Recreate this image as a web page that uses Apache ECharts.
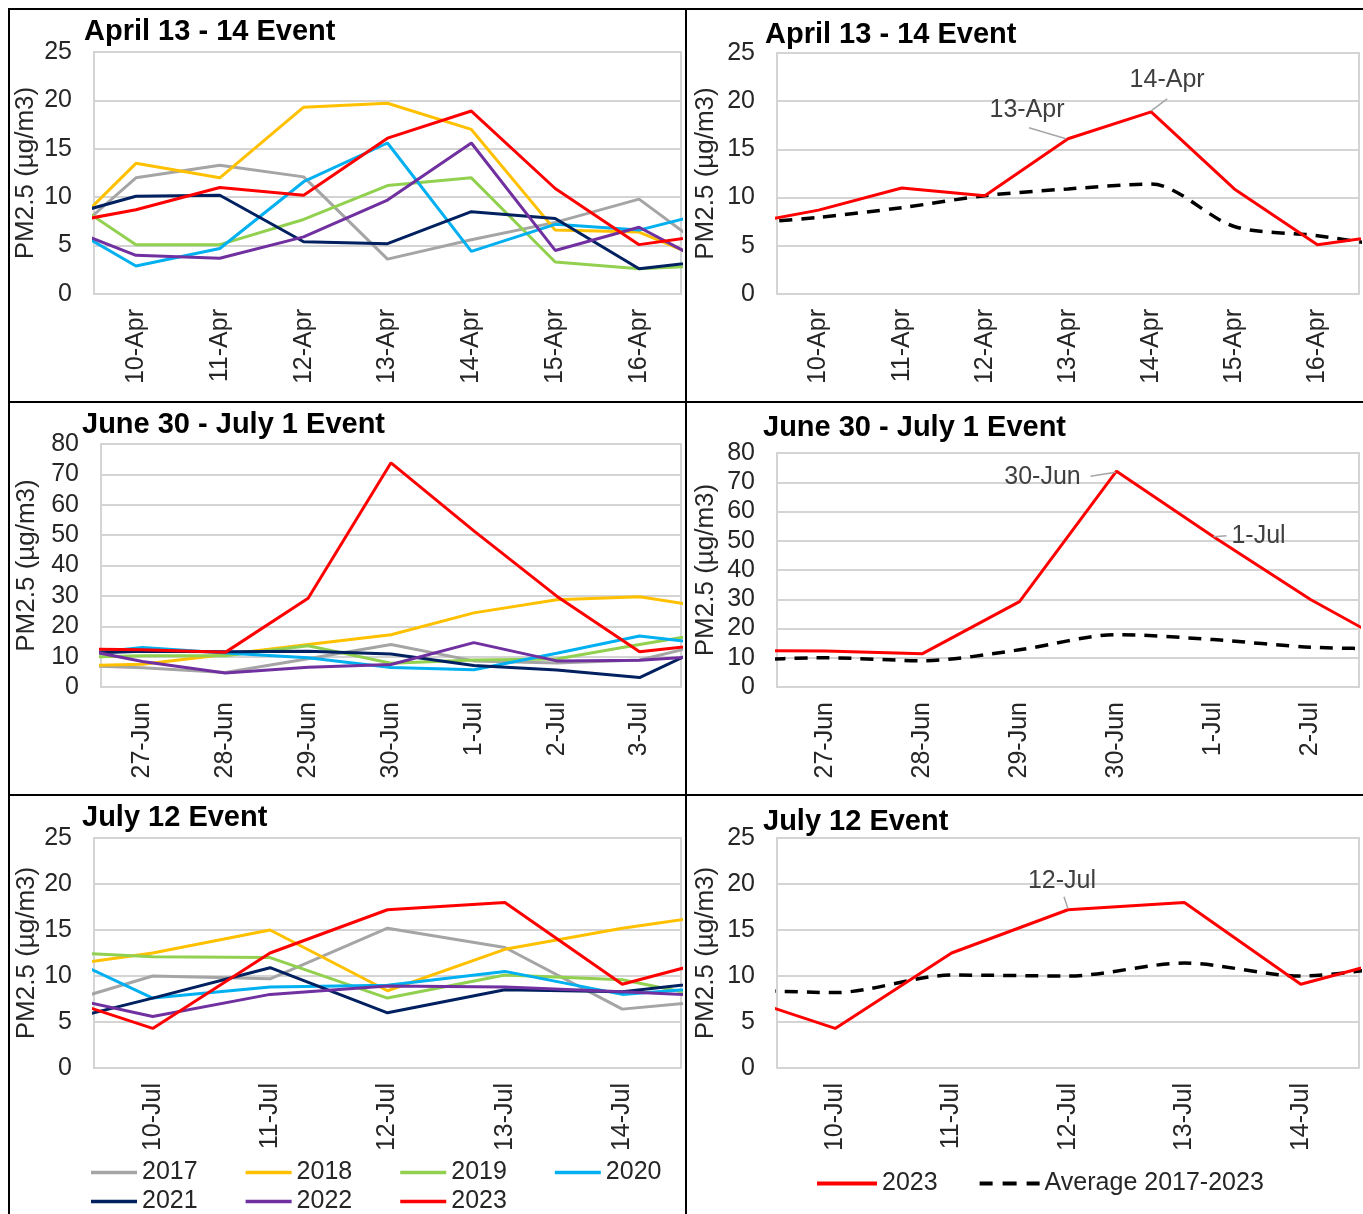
<!DOCTYPE html>
<html>
<head>
<meta charset="utf-8">
<title>PM2.5 events</title>
<script src="https://cdn.jsdelivr.net/npm/echarts@6/dist/echarts.min.js"></script>
<style>
  html, body { margin: 0; padding: 0; background: #fff; }
  #main { width: 1363px; height: 1214px; }
</style>
</head>
<body>
<div id="main"></div>
<script>
// 年份 / 颜色
const years = ['2017', '2018', '2019', '2020', '2021', '2022', '2023']
const yearColors = ['#A5A5A5', '#FFC000', '#92D050', '#00B0F0', '#002060', '#7030A0', '#FF0000']

// April 13 - 14 event (first and last day only fall half inside the plot)
const aprDays = ['9-Apr', '10-Apr', '11-Apr', '12-Apr', '13-Apr', '14-Apr', '15-Apr', '16-Apr', '17-Apr']
const apr2017 = [4.4, 12.0, 13.3, 12.1, 3.6, 5.6, 7.4, 9.8, 3.4]
const apr2018 = [4.9, 13.5, 12.0, 19.3, 19.7, 17.0, 6.6, 6.4, 2.8]
const apr2019 = [10.9, 5.1, 5.1, 7.7, 11.2, 12.0, 3.3, 2.6, 3.0]
const apr2020 = [7.9, 2.9, 4.7, 11.6, 15.6, 4.4, 7.2, 6.6, 8.8]
const apr2021 = [7.7, 10.1, 10.2, 5.4, 5.2, 8.5, 7.8, 2.6, 3.6]
const apr2022 = [7.4, 4.0, 3.7, 5.9, 9.7, 15.6, 4.5, 6.9, 2.3]
const apr2023 = [7.1, 8.7, 11.0, 10.2, 16.1, 18.9, 10.9, 5.1, 6.3]
const aprAvg = [7.25, 7.95, 8.95, 10.2, 10.9, 11.4, 7.0, 6.05, 4.75]

// June 30 - July 1 event
const junDays = ['26-Jun', '27-Jun', '28-Jun', '29-Jun', '30-Jun', '1-Jul', '2-Jul', '3-Jul', '4-Jul']
const jun2017 = [7.3, 6.3, 4.8, 9.3, 14.0, 8.6, 7.9, 8.9, 15.5]
const jun2018 = [6.9, 7.5, 10.7, 14.0, 17.2, 24.4, 28.7, 29.7, 25.5]
const jun2019 = [9.7, 10.3, 10.3, 13.6, 7.8, 8.9, 9.2, 14.0, 18.6]
const jun2020 = [10.2, 13.0, 11.2, 9.6, 6.4, 5.7, 11.1, 16.8, 13.6]
const jun2021 = [10.8, 11.8, 11.6, 11.8, 10.9, 7.1, 5.6, 3.1, 15.9]
const jun2022 = [13.8, 8.4, 4.6, 6.5, 7.4, 14.6, 8.6, 8.8, 10.6]
const jun2023 = [12.5, 12.3, 11.4, 29.2, 73.8, 51.4, 29.9, 11.6, 14.6]
const junAvg = [9.0, 10.0, 9.0, 12.7, 17.9, 16.2, 13.6, 13.0, null]

// July 12 event
const julDays = ['9-Jul', '10-Jul', '11-Jul', '12-Jul', '13-Jul', '14-Jul', '15-Jul']
const jul2017 = [6.2, 10.0, 9.7, 15.2, 13.1, 6.4, 7.6]
const jul2018 = [10.7, 12.5, 15.0, 8.4, 12.9, 15.2, 17.0]
const jul2019 = [12.7, 12.1, 12.0, 7.6, 10.1, 9.6, 7.0]
const jul2020 = [13.6, 7.6, 8.8, 9.0, 10.5, 8.0, 9.0]
const jul2021 = [4.4, 7.6, 10.9, 6.0, 8.5, 8.3, 9.7]
const jul2022 = [8.4, 5.6, 8.0, 8.9, 8.8, 8.3, 7.7]
const jul2023 = [8.5, 4.3, 12.5, 17.2, 18.0, 9.1, 12.5]
const julAvg = [8.6, 8.2, 10.1, 10.0, 11.4, 10.0, 11.4]

const FONT = "'Liberation Sans', Arial, sans-serif"
const TXT = '#262626'
const GRIDC = '#d4d4d4'
const AVG_NAME = 'Average 2017-2023'

// 六个面板的布局
const panels = [
  { title: 'April 13 - 14 Event', tl: [84, 17], grid: [94, 52, 587, 242], days: aprDays, show: [1, 7], yMax: 25, yStep: 5, gap: 55 },
  { title: 'April 13 - 14 Event', tl: [765, 20], grid: [777, 53, 582, 241], days: aprDays, show: [1, 7], yMax: 25, yStep: 5, gap: 58 },
  { title: 'June 30 - July 1 Event', tl: [82, 410], grid: [101, 444, 580, 243], days: junDays, show: [1, 7], yMax: 80, yStep: 10, gap: 61 },
  { title: 'June 30 - July 1 Event', tl: [763, 413], grid: [777, 453, 582, 234], days: junDays, show: [1, 6], yMax: 80, yStep: 10, gap: 58 },
  { title: 'July 12 Event', tl: [82, 803], grid: [94, 838, 587, 230], days: julDays, show: [1, 5], yMax: 25, yStep: 5, gap: 54 },
  { title: 'July 12 Event', tl: [763, 807], grid: [777, 838, 582, 230], days: julDays, show: [1, 5], yMax: 25, yStep: 5, gap: 58 }
]

const leftData = [
  [apr2017, apr2018, apr2019, apr2020, apr2021, apr2022, apr2023],
  [jun2017, jun2018, jun2019, jun2020, jun2021, jun2022, jun2023],
  [jul2017, jul2018, jul2019, jul2020, jul2021, jul2022, jul2023]
]
// offs: 标签偏移, lead: 引导线 (相对数据点的像素偏移)
const rightData = [
  { red: apr2023, avg: aprAvg,
    offs: { 4: [-41, -11], 5: [16, -14] },
    lead: { 4: [-39, -11, -2, 0], 5: [16, -13, 0, -1] } },
  { red: jun2023, avg: junAvg,
    offs: { 4: [-74, 23], 5: [45, 17] },
    lead: { 4: [-26, 5, -1, 1], 5: [0, 0, 13, -1] } },
  { red: jul2023, avg: julAvg,
    offs: { 3: [-6, -11] },
    lead: { 3: [-4, -13, 0, -1] } }
]

const toPts = vals => vals.map((v, i) => [i, v])

const series = []
// 左侧：每年一条线
leftData.forEach((set, p) => {
  const idx = p * 2
  set.forEach((vals, k) => {
    series.push({
      type: 'line', name: years[k], xAxisIndex: idx, yAxisIndex: idx,
      data: toPts(vals), symbol: 'none', clip: true, silent: true,
      lineStyle: { color: yearColors[k], width: 3 }, itemStyle: { color: yearColors[k] }
    })
  })
})
// 右侧：2023 与平均值
rightData.forEach((d, p) => {
  const idx = p * 2 + 1
  const days = panels[idx].days
  series.push({
    type: 'line', name: AVG_NAME, xAxisIndex: idx, yAxisIndex: idx,
    data: toPts(d.avg), symbol: 'none', smooth: 0.3, clip: true, silent: true,
    lineStyle: { color: '#000', width: 3.5, type: [13, 9] }, itemStyle: { color: '#000' }
  })
  series.push({
    type: 'line', name: '2023', xAxisIndex: idx, yAxisIndex: idx,
    data: d.red.map((v, i) => ({
      value: [i, v],
      label: { show: d.offs[i] !== undefined }
    })),
    symbol: 'circle', symbolSize: 0, showSymbol: true, clip: true, silent: true,
    lineStyle: { color: '#FF0000', width: 3 }, itemStyle: { color: '#FF0000' },
    label: {
      position: 'top', fontSize: 25, color: '#404040', fontFamily: FONT,
      formatter: params => days[params.dataIndex]
    },
    labelLayout: params => {
      const o = d.offs[params.dataIndex]
      return o ? { dx: o[0], dy: o[1] } : {}
    }
  })
})

const grids = panels.map(p => ({
  show: true, left: p.grid[0], top: p.grid[1], width: p.grid[2], height: p.grid[3],
  borderColor: GRIDC, borderWidth: 2, backgroundColor: 'transparent'
}))

const xAxes = panels.map((p, i) => {
  const vals = []
  for (let k = p.show[0]; k <= p.show[1]; k++) vals.push(k)
  return {
    type: 'value', gridIndex: i, min: p.show[0] - 0.5, max: p.show[1] + 0.5,
    axisLine: { show: false }, axisTick: { show: false }, splitLine: { show: false },
    axisLabel: {
      customValues: vals, rotate: 90, margin: 15, fontSize: 25, color: TXT, fontFamily: FONT,
      formatter: v => p.days[v]
    }
  }
})

const yAxes = panels.map((p, i) => ({
  type: 'value', gridIndex: i, min: 0, max: p.yMax, interval: p.yStep,
  name: 'PM2.5 (µg/m3)', nameLocation: 'middle', nameGap: p.gap,
  nameTextStyle: { fontSize: 26, color: TXT, fontFamily: FONT },
  axisLine: { show: false }, axisTick: { show: false },
  axisLabel: { fontSize: 25, color: TXT, fontFamily: FONT, margin: 22 },
  splitLine: { lineStyle: { color: GRIDC, width: 2 } }
}))

const titles = panels.map(p => ({
  text: p.title, left: p.tl[0], top: p.tl[1], padding: 0,
  textStyle: { fontSize: 29, fontWeight: 'bold', color: '#000', fontFamily: FONT, lineHeight: 30 }
}))

// 图例图标：实线 / 虚线
const SOLID = 'rect'
const DASH = 'path://M0,0H13V4H0Z M23,0H37V4H23Z M47,0H60V4H47Z'
const legendText = { fontSize: 25, color: TXT, fontFamily: FONT }
const legendBase = { padding: 0, selectedMode: false, textStyle: legendText }
const legends = [
  Object.assign({ data: years.slice(0, 4).map(n => ({ name: n, icon: SOLID })), left: 91, top: 1160, itemGap: 48, itemWidth: 46, itemHeight: 3.5 }, legendBase),
  Object.assign({ data: years.slice(4).map(n => ({ name: n, icon: SOLID })), left: 91, top: 1189, itemGap: 48, itemWidth: 46, itemHeight: 3.5 }, legendBase),
  Object.assign({ data: [{ name: '2023', icon: SOLID }, { name: AVG_NAME, icon: DASH }], left: 817, top: 1171, itemGap: 42, itemWidth: 60, itemHeight: 4 }, legendBase)
]

// 表格边框
const seg = (x1, y1, x2, y2, color, w) => ({
  type: 'line', shape: { x1, y1, x2, y2 }, silent: true, z: 100,
  style: { stroke: color, lineWidth: w }
})
const borders = [
  seg(8, 9, 1363, 9, '#000', 2),
  seg(9, 8, 9, 1214, '#000', 2),
  seg(686, 8, 686, 1214, '#000', 2),
  seg(8, 402, 1363, 402, '#000', 2),
  seg(8, 795, 1363, 795, '#000', 2)
]

const myChart = echarts.init(document.getElementById('main'))
myChart.setOption({
  animation: false,
  backgroundColor: '#fff',
  title: titles,
  legend: legends,
  grid: grids,
  xAxis: xAxes,
  yAxis: yAxes,
  series: series,
  graphic: borders
})

// 数据标签的引导线，位置由坐标轴换算
const leaders = []
rightData.forEach((d, p) => {
  const idx = p * 2 + 1
  Object.keys(d.lead).forEach(key => {
    const i = Number(key)
    const pt = myChart.convertToPixel({ gridIndex: idx }, [i, d.red[i]])
    const l = d.lead[key]
    leaders.push(seg(pt[0] + l[0], pt[1] + l[1], pt[0] + l[2], pt[1] + l[3], '#a6a6a6', 1.5))
  })
})
myChart.setOption({ graphic: borders.concat(leaders) })
</script>
</body>
</html>
